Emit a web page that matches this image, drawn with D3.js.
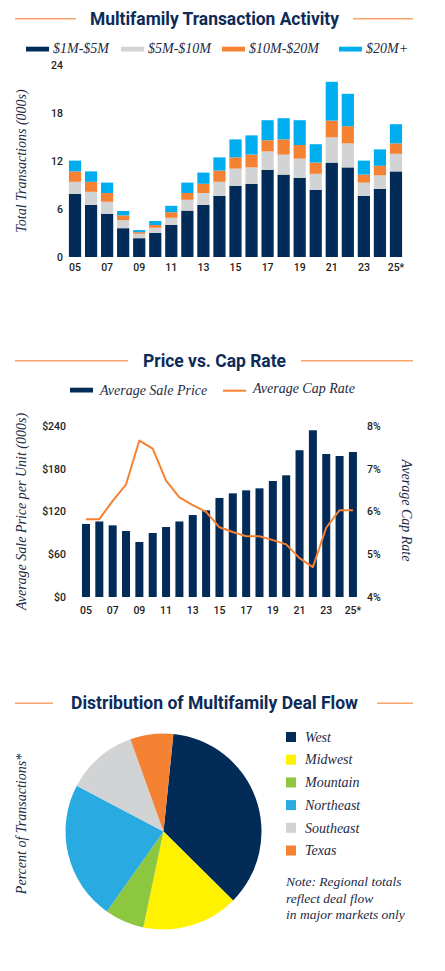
<!DOCTYPE html>
<html>
<head>
<meta charset="utf-8">
<script src="https://cdn.jsdelivr.net/npm/d3@7"></script>
<style>
  body { margin: 0; background: #fff; }
  svg { display: block; }
  .title { font-family: Roboto, "Liberation Sans", sans-serif; font-weight: 700; fill: #0d2b57; }
  .serif { font-family: "Liberation Serif", "DejaVu Serif", serif; font-style: italic; fill: #1c2a45; }
  .tick text { font-family: Roboto, "Liberation Sans", sans-serif; font-weight: 500; font-size: 10.5px; fill: #222; }
</style>
</head>
<body>
<svg id="chart" width="445" height="971"></svg>
<script>
// Transaction activity (000s) by deal size
var years = ['05','06','07','08','09','10','11','12','13','14','15','16','17','18','19','20','21','22','23','24','25*'];
var yearTicks = ['05','07','09','11','13','15','17','19','21','23','25*'];
var tx1to5   = [7.9, 6.5, 5.4, 3.6, 2.35, 3.0, 4.0, 5.8, 6.5, 7.65, 8.9, 9.15, 10.9, 10.3, 9.9, 8.4, 11.8, 11.2, 7.65, 8.5, 10.7];
var tx5to10  = [1.5, 1.65, 1.5, 1.0, 0.55, 0.65, 0.9, 1.35, 1.5, 1.75, 2.15, 2.05, 2.3, 2.5, 2.4, 2.0, 3.15, 3.0, 1.65, 1.7, 2.2];
var tx10to20 = [1.3, 1.25, 1.1, 0.6, 0.2, 0.35, 0.7, 0.85, 1.15, 1.4, 1.4, 1.6, 1.4, 1.9, 1.7, 1.4, 2.1, 2.15, 1.0, 1.2, 1.3];
var tx20plus = [1.35, 1.3, 1.3, 0.55, 0.26, 0.5, 0.8, 1.3, 1.4, 1.65, 2.25, 2.4, 2.5, 2.65, 3.1, 2.3, 4.85, 4.05, 1.75, 2.05, 2.4];
var txTicks = [0, 6, 12, 18, 24];
var txSeries = ['$1M-$5M', '$5M-$10M', '$10M-$20M', '$20M+'];

// Price vs cap rate
var salePrice = [102.5, 106, 100.6, 92.6, 77.2, 89.8, 98.2, 106, 115, 121.6, 139, 145.5, 149.7, 152.5, 162.8, 170.8, 206, 234, 200.7, 197.9, 203.5];
var capRate = [5.82, 5.82, 6.25, 6.63, 7.66, 7.47, 6.72, 6.33, 6.15, 5.99, 5.63, 5.52, 5.42, 5.42, 5.33, 5.23, 4.91, 4.70, 5.62, 6.03, 6.03];
var priceTicks = [0, 60, 120, 180, 240];
var capTicks = [4, 5, 6, 7, 8];

// Regional deal flow share (%)
var regions = ['West', 'Midwest', 'Mountain', 'Northeast', 'Southeast', 'Texas'];
var regionShare = [35.8, 15.9, 6.5, 22.9, 11.8, 7.1];

var navy = '#022b57', grey = '#d1d3d4', orange = '#f58232', blue = '#00aeef';
var txColors = [navy, grey, orange, blue];
var regionColors = [navy, '#fff200', '#8dc63f', '#29abe2', '#d1d3d4', '#f58232'];

var svg = d3.select('#chart');

// Section headers with the orange rules either side
function header(text, y, width, leftEnd, rightStart, ruleY) {
  svg.append('line').attr('x1', 15).attr('x2', leftEnd).attr('y1', ruleY).attr('y2', ruleY)
    .style('stroke', '#f7a56c').style('stroke-width', 1.5);
  svg.append('line').attr('x1', rightStart).attr('x2', 413).attr('y1', ruleY).attr('y2', ruleY)
    .style('stroke', '#f7a56c').style('stroke-width', 1.5);
  svg.append('text').attr('class', 'title')
    .attr('x', 214.5).attr('y', y)
    .attr('text-anchor', 'middle')
    .attr('textLength', width).attr('lengthAdjust', 'spacingAndGlyphs')
    .style('font-size', '17.5px')
    .text(text);
}

function yTitle(text, x, y, rot) {
  svg.append('text').attr('class', 'serif')
    .attr('transform', 'translate(' + x + ',' + y + ') rotate(' + rot + ')')
    .attr('text-anchor', 'middle')
    .style('font-size', '14px')
    .text(text);
}

function cleanAxis(g) {
  g.select('.domain').remove();
  g.selectAll('.tick line').remove();
}

// ---------- Chart 1: stacked bars ----------
header('Multifamily Transaction Activity', 25, 249, 76, 353, 18.7);

var legendX = [26, 121, 222, 339];
var lg = svg.append('g');
txSeries.forEach(function(s, i) {
  lg.append('rect').attr('x', legendX[i]).attr('y', 46.7).attr('width', 23).attr('height', 4.8).style('fill', txColors[i]);
  lg.append('text').attr('class', 'serif').attr('x', legendX[i] + 27).attr('y', 52.7)
    .style('font-size', '14px').text(s);
});

var x1 = d3.scaleBand().domain(years).range([67, 404]).paddingInner(0.24).paddingOuter(0.12);
var y1 = d3.scaleLinear().domain([0, 24]).range([257, 65]);

var txRows = years.map(function(yr, i) {
  return { year: yr, a: tx1to5[i], b: tx5to10[i], c: tx10to20[i], d: tx20plus[i] };
});
var stacked = d3.stack().keys(['a', 'b', 'c', 'd'])(txRows);

svg.append('g').selectAll('g')
  .data(stacked)
  .enter().append('g')
    .style('fill', function(d, i) { return txColors[i]; })
  .selectAll('rect')
  .data(function(d) { return d; })
  .enter().append('rect')
    .attr('x', function(d) { return x1(d.data.year); })
    .attr('y', function(d) { return y1(d[1]); })
    .attr('width', x1.bandwidth())
    .attr('height', function(d) { return y1(d[0]) - y1(d[1]); });

svg.append('g')
  .attr('transform', 'translate(63,0)')
  .call(d3.axisLeft(y1).tickValues(txTicks).tickSize(0).tickPadding(0))
  .call(cleanAxis);

svg.append('g')
  .attr('transform', 'translate(0,262)')
  .call(d3.axisBottom(x1).tickValues(yearTicks).tickSize(0).tickPadding(2))
  .call(cleanAxis);

yTitle('Total Transactions (000s)', 26, 161, -90);

// ---------- Chart 2: price bars + cap rate line ----------
header('Price vs. Cap Rate', 366.7, 143, 128, 301, 360.7);

svg.append('rect').attr('x', 70).attr('y', 387.7).attr('width', 23).attr('height', 4.8).style('fill', navy);
svg.append('text').attr('class', 'serif').attr('x', 100).attr('y', 394.5).style('font-size', '14px').text('Average Sale Price');
svg.append('line').attr('x1', 223).attr('x2', 246).attr('y1', 390.7).attr('y2', 390.7)
  .style('stroke', orange).style('stroke-width', 2);
svg.append('text').attr('class', 'serif').attr('x', 253).attr('y', 392.7).style('font-size', '14px').text('Average Cap Rate');

var x2 = d3.scaleBand().domain(years).range([79.3, 359.6]).paddingInner(0.4).paddingOuter(0.2);
var y2 = d3.scaleLinear().domain([0, 240]).range([597, 426]);
var y2r = d3.scaleLinear().domain([4, 8]).range([597, 426]);

svg.append('g').selectAll('rect')
  .data(salePrice)
  .enter().append('rect')
    .attr('x', function(d, i) { return x2(years[i]); })
    .attr('y', function(d) { return y2(d); })
    .attr('width', x2.bandwidth())
    .attr('height', function(d) { return y2(0) - y2(d); })
    .style('fill', navy);

var capLine = d3.line()
  .x(function(d, i) { return x2(years[i]) + x2.bandwidth() / 2; })
  .y(function(d) { return y2r(d); });

svg.append('path')
  .attr('d', capLine(capRate))
  .style('fill', 'none')
  .style('stroke', orange)
  .style('stroke-width', 2)
  .style('stroke-linejoin', 'round');

svg.append('g')
  .attr('transform', 'translate(66,0)')
  .call(d3.axisLeft(y2).tickValues(priceTicks).tickFormat(function(d) { return '$' + d; }).tickSize(0).tickPadding(0))
  .call(cleanAxis);

svg.append('g')
  .attr('transform', 'translate(367,0)')
  .call(d3.axisRight(y2r).tickValues(capTicks).tickFormat(function(d) { return d + '%'; }).tickSize(0).tickPadding(0))
  .call(cleanAxis);

svg.append('g')
  .attr('transform', 'translate(0,605)')
  .call(d3.axisBottom(x2).tickValues(yearTicks).tickSize(0).tickPadding(2))
  .call(cleanAxis);

yTitle('Average Sale Price per Unit (000s)', 26, 511.5, -90);
yTitle('Average Cap Rate', 402, 510.5, 90);

// ---------- Chart 3: pie ----------
header('Distribution of Multifamily Deal Flow', 709, 287, 53, 377, 703.3);

var pie = d3.pie().sort(null).startAngle(5.8 * Math.PI / 180).endAngle(2 * Math.PI + 5.8 * Math.PI / 180);
var arc = d3.arc().innerRadius(0).outerRadius(98);

svg.append('g')
  .attr('transform', 'translate(163.5,831.5)')
  .selectAll('path')
  .data(pie(regionShare))
  .enter().append('path')
    .attr('d', arc)
    .style('fill', function(d, i) { return regionColors[i]; });

var pl = svg.append('g');
regions.forEach(function(r, i) {
  var yy = 732 + i * 22.7;
  pl.append('rect').attr('x', 286).attr('y', yy).attr('width', 10).attr('height', 10).style('fill', regionColors[i]);
  pl.append('text').attr('class', 'serif').attr('x', 305).attr('y', yy + 9.7).style('font-size', '14px').text(r);
});

var note = ['Note: Regional totals', 'reflect deal flow', 'in major markets only'];
note.forEach(function(t, i) {
  svg.append('text').attr('class', 'serif').attr('x', 286).attr('y', 886 + i * 16.5)
    .style('font-size', '13.5px').text(t);
});

yTitle('Percent of Transactions*', 26, 824, -90);
</script>
</body>
</html>
